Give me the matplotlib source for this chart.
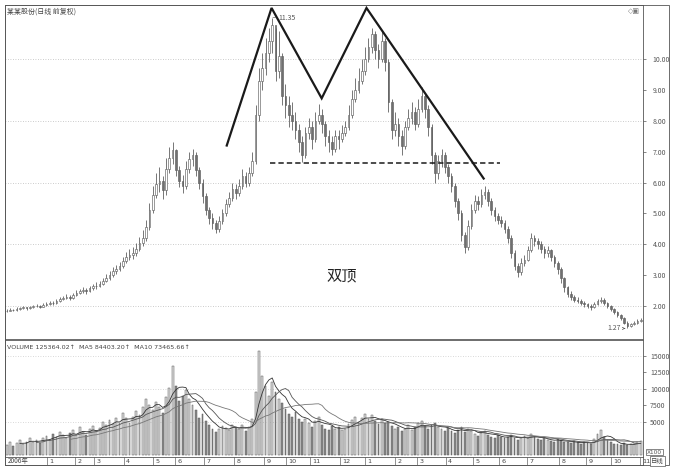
import matplotlib
matplotlib.use('Agg')
import matplotlib.pyplot as plt
import matplotlib.patches as mpatches
import numpy as np
import pandas as pd

plt.rcParams['font.family'] = ['Noto Sans CJK SC', 'DejaVu Sans']

# ---------------- data ----------------
first_open = 1.83
closes = [
    1.85, 1.88, 1.86, 1.90, 1.93, 1.95, 1.92, 1.96, 1.99, 2.00,
    1.97, 2.03, 2.06, 2.10, 2.08, 2.15, 2.22, 2.26, 2.30, 2.27,
    2.35, 2.42, 2.48, 2.52, 2.49, 2.58, 2.63, 2.66, 2.72, 2.82,
    2.90, 3.00, 3.12, 3.20, 3.28, 3.45, 3.60, 3.66, 3.72, 3.85,
    4.05, 4.20, 4.55, 5.10, 5.60, 5.95, 6.05, 5.75, 6.45, 6.80,
    7.05, 6.40, 6.05, 5.90, 6.45, 6.75, 6.90, 6.40, 6.00, 5.55,
    5.10, 4.85, 4.70, 4.50, 4.75, 5.00, 5.30, 5.50, 5.80, 5.65,
    5.90, 6.20, 6.00, 6.30, 6.70, 8.20, 9.30, 9.70, 10.20, 10.60,
    11.10, 9.60, 10.10, 8.80, 8.50, 8.20, 8.00, 7.70, 7.30, 6.90,
    7.60, 7.80, 7.40, 8.00, 8.20, 7.90, 7.50, 7.30, 7.10, 7.50,
    7.40, 7.60, 7.80, 8.20, 8.70, 9.00, 9.30, 9.60, 10.00, 10.40,
    10.80, 10.30, 10.00, 10.60, 9.90, 8.60, 7.70, 7.90, 7.50, 7.20,
    7.80, 8.10, 8.30, 7.90, 8.40, 8.80, 8.40, 7.80, 6.90, 6.30,
    6.70, 6.90, 6.50, 6.20, 5.90, 5.40, 5.00, 4.30, 3.90, 4.60,
    5.10, 5.40, 5.30, 5.60, 5.70, 5.40, 5.10, 4.90, 4.80, 4.70,
    4.50, 4.20, 3.70, 3.30, 3.10, 3.40, 3.50, 3.80, 4.20, 4.10,
    4.00, 3.85, 3.70, 3.80, 3.60, 3.40, 3.20, 2.90, 2.60, 2.40,
    2.30, 2.20, 2.15, 2.10, 2.05, 2.00, 1.95, 2.05, 2.15, 2.20,
    2.10, 2.00, 1.90, 1.80, 1.70, 1.60, 1.45, 1.35, 1.40, 1.45,
    1.50, 1.55,
]
highs = [
    1.90, 1.92, 1.91, 1.95, 1.97, 2.00, 1.98, 2.01, 2.04, 2.06,
    2.03, 2.08, 2.12, 2.16, 2.15, 2.21, 2.28, 2.33, 2.37, 2.35,
    2.42, 2.50, 2.56, 2.60, 2.58, 2.66, 2.72, 2.76, 2.82, 2.92,
    3.02, 3.12, 3.25, 3.34, 3.42, 3.60, 3.76, 3.84, 3.90, 4.05,
    4.25, 4.45, 4.80, 5.35, 5.90, 6.30, 6.50, 6.20, 6.80, 7.15,
    7.30, 7.10, 6.55, 6.25, 6.70, 7.00, 7.10, 7.00, 6.50, 6.10,
    5.65, 5.20, 5.00, 4.80, 4.90, 5.15, 5.45, 5.70, 6.00, 5.95,
    6.10, 6.45, 6.35, 6.50, 7.00, 8.50, 9.70, 10.20, 10.70, 11.00,
    11.35, 11.00, 10.90, 10.20, 9.20, 8.80, 8.60, 8.30, 7.90, 7.50,
    7.80, 8.10, 8.00, 8.30, 8.55, 8.40, 8.00, 7.70, 7.50, 7.70,
    7.70, 7.85, 8.00, 8.50, 9.00, 9.40, 9.70, 10.00, 10.40, 10.70,
    11.00, 10.90, 10.50, 10.90, 10.70, 10.00, 8.70, 8.30, 8.10, 7.70,
    8.00, 8.40, 8.60, 8.45, 8.70, 9.10, 8.90, 8.50, 7.90, 7.00,
    6.90, 7.10, 7.00, 6.60, 6.30, 6.00, 5.50, 5.10, 4.40, 4.80,
    5.30, 5.60, 5.55, 5.80, 5.90, 5.80, 5.50, 5.20, 5.00, 4.90,
    4.80, 4.60, 4.30, 3.80, 3.40, 3.55, 3.65, 3.95, 4.35, 4.30,
    4.20, 4.10, 3.95, 3.95, 3.85, 3.65, 3.45, 3.25, 2.95, 2.65,
    2.48, 2.36, 2.28, 2.22, 2.16, 2.10, 2.05, 2.12, 2.24, 2.30,
    2.25, 2.14, 2.04, 1.94, 1.84, 1.74, 1.64, 1.50, 1.46, 1.50,
    1.56, 1.60,
]
lows = [
    1.80, 1.83, 1.82, 1.84, 1.88, 1.90, 1.88, 1.90, 1.93, 1.95,
    1.92, 1.95, 2.00, 2.03, 2.02, 2.05, 2.12, 2.18, 2.22, 2.20,
    2.24, 2.32, 2.38, 2.43, 2.40, 2.45, 2.53, 2.56, 2.60, 2.68,
    2.76, 2.84, 2.95, 3.05, 3.12, 3.22, 3.38, 3.48, 3.52, 3.62,
    3.78, 3.95, 4.10, 4.45, 5.00, 5.50, 5.70, 5.45, 5.60, 6.30,
    6.60, 6.20, 5.85, 5.65, 5.80, 6.30, 6.55, 6.20, 5.80, 5.35,
    4.95, 4.65, 4.50, 4.35, 4.40, 4.65, 4.90, 5.20, 5.40, 5.45,
    5.55, 5.80, 5.85, 5.90, 6.20, 6.60, 8.00, 9.00, 9.50, 9.90,
    10.20, 9.30, 9.40, 8.50, 8.10, 7.80, 7.70, 7.40, 7.00, 6.65,
    6.80, 7.40, 7.10, 7.30, 7.90, 7.60, 7.20, 7.00, 6.90, 7.00,
    7.10, 7.30, 7.50, 7.70, 8.10, 8.60, 8.90, 9.20, 9.50, 9.90,
    10.20, 10.00, 9.70, 9.90, 9.60, 8.30, 7.40, 7.50, 7.20, 6.90,
    7.10, 7.70, 7.90, 7.70, 7.80, 8.30, 8.10, 7.50, 6.60, 6.00,
    6.10, 6.50, 6.30, 6.00, 5.70, 5.20, 4.80, 4.10, 3.70, 3.80,
    4.50, 5.00, 5.10, 5.20, 5.45, 5.25, 4.95, 4.75, 4.65, 4.55,
    4.35, 4.05, 3.55, 3.15, 2.95, 3.00, 3.30, 3.45, 3.75, 3.95,
    3.85, 3.70, 3.55, 3.60, 3.45, 3.25, 3.05, 2.75, 2.45, 2.30,
    2.20, 2.12, 2.08, 2.03, 1.98, 1.93, 1.88, 1.92, 2.02, 2.10,
    2.02, 1.93, 1.84, 1.74, 1.64, 1.54, 1.40, 1.27, 1.32, 1.37,
    1.42, 1.47,
]
volumes = [
    1500, 1900, 1300, 1800, 2300, 1600, 2000, 2600, 1900, 2200,
    1800, 2500, 2900, 2300, 3200, 2700, 3500, 3000, 2500, 3300,
    3800, 3100, 4200, 3500, 3000, 3900, 4400, 3600, 4100, 5000,
    4500, 5300, 4700, 5600, 4900, 6300, 5600, 4900, 5800, 6600,
    6000, 7200, 8500, 7600, 6800, 8000, 7200, 6400, 8800, 10200,
    13500, 10500, 8200, 9000, 9800, 8500, 7600, 6800, 5600, 6200,
    5200, 4600, 4000, 3500, 3900, 4400, 4100, 3800, 4500, 4200,
    3900, 4600, 3700, 4200, 5500, 9500, 15800, 12000, 10500, 9000,
    11000, 9500, 8500, 7800, 7000, 6200, 5800, 6500, 5400, 5000,
    5500, 4800, 4200, 5200, 5800, 4600, 4000, 3800, 4400, 3900,
    4300, 3800, 4000, 4700, 5300, 5800, 5000, 5600, 6200, 5400,
    6000, 5200, 4700, 5400, 4800, 5000, 4400, 3900, 4200, 3600,
    4000, 4500, 3800, 4200, 4800, 5200, 4400, 3900, 4600, 4800,
    4200, 3900, 3700, 4100, 3600, 3300, 3800, 4300, 3500, 3900,
    3600, 3200, 2900, 3400, 3700, 3100, 2800, 2600, 3000, 2700,
    2500, 2800, 3000, 2600, 2300, 2500, 2900, 2600, 3200, 2800,
    2400, 2200, 2600, 2300, 2100, 2000, 2400, 2200, 2000, 1900,
    1800, 2100, 1900, 1700, 2000, 1800, 1600, 2400, 3200, 3800,
    2800, 2200, 1900, 1700, 1600, 1500, 1800, 1500, 1700, 1600,
    1900, 2100,
]
year_label = '2006年'
month_labels = ['1', '2', '3', '4', '5', '6', '7', '8', '9', '10', '11', '12',
                '1', '2', '3', '4', '5', '6', '7', '8', '9', '10', '11']
month_starts = [12.3, 20.7, 26.4, 35.4, 44.2, 50.8, 59.5, 68.6, 77.6, 84.2,
                91.5, 100.5, 108.0, 117.1, 123.7, 132.4, 140.6, 148.4, 156.8,
                166.5, 174.6, 182.1, 190.9]
price_ticks = [2, 3, 4, 5, 6, 7, 8, 9, 10]
price_tick_labels = ['2.00', '3.00', '4.00', '5.00', '6.00', '7.00', '8.00', '9.00', '10.00']
price_grid = [2, 4, 6, 8, 10]
vol_ticks = [5000, 7500, 10000, 12500, 15000]
vol_tick_labels = ['5000', '7500', '10000', '12500', '15000']
vol_grid = [5000, 10000, 15000]

# double-top pattern drawn on the chart (bar index, price)
pattern_x = [66.3, 79.8, 94.9, 108.4, 143.7]
pattern_y = [7.20, 11.66, 8.73, 11.66, 6.13]
neck_x = [79.2, 148.5]
neck_y = [6.62, 6.62]

title_text = '某某股份(日线 前复权)'
vol_header = 'VOLUME 125364.02↑  MA5 84403.20↑  MA10 73465.66↑'
pattern_name = '双顶'
high_label = '11.35'
low_label = '1.27'

# ---------------- figure ----------------
W, H = 675, 471
fig = plt.figure(figsize=(W / 100, H / 100), dpi=100)
fig.patch.set_facecolor('white')


def rect(l, t, r, b):
    return [l / W, 1 - b / H, (r - l) / W, (b - t) / H]


ax = fig.add_axes(rect(5, 5, 643, 339))
axv = fig.add_axes(rect(5, 340, 643, 457))
axd = fig.add_axes(rect(5, 457, 643, 465))

n = len(closes)
x = np.arange(n)
c = np.array(closes)
o = np.r_[first_open, c[:-1]]
hi = np.array(highs)
lo = np.array(lows)
up = c >= o

# candles
ax.vlines(x, lo, hi, color='#606060', lw=0.6, zorder=3)
body_bot = np.minimum(o, c)
body_h = np.maximum(np.abs(c - o), 0.02)
ax.bar(x[up], body_h[up], bottom=body_bot[up], width=0.5,
       facecolor='white', edgecolor='#606060', lw=0.45, zorder=4)
ax.bar(x[~up], body_h[~up], bottom=body_bot[~up], width=0.5,
       facecolor='#707070', edgecolor='#606060', lw=0.45, zorder=4)

XL = (-0.5, 191.7)
ax.set_xlim(*XL)
ax.set_ylim(0.927, 11.756)
for g in price_grid:
    ax.axhline(g, color='#bbbbbb', lw=0.6, ls=(0, (1, 2)), zorder=1)
ax.yaxis.tick_right()
ax.set_yticks(price_ticks)
ax.set_yticklabels(price_tick_labels)
ax.tick_params(axis='y', labelsize=5, colors='#555555', length=2, width=0.5,
               direction='out', pad=5)
ax.set_xticks([])
for s in ax.spines.values():
    s.set_color('#555555')
    s.set_linewidth(0.6)

# pattern lines
ax.plot(pattern_x, pattern_y, color='#1a1a1a', lw=1.6, zorder=6,
        solid_joinstyle='miter')
ax.plot(neck_x, neck_y, color='#1a1a1a', lw=1.1, ls=(0, (3.5, 2)), zorder=6)
ax.text(100.9, 2.98, pattern_name, fontsize=11, color='#222222',
        ha='center', va='center', zorder=7)

# high / low markers
ax.annotate('', xy=(80.2, 11.35), xytext=(81.8, 11.35),
            arrowprops=dict(arrowstyle='-', color='#666666', lw=0.5))
ax.text(81.9, 11.35, high_label, fontsize=5, color='#555555', va='center', ha='left')
ax.text(185.0, 1.27, low_label, fontsize=5, color='#555555', va='center', ha='right')
ax.annotate('', xy=(187.2, 1.27), xytext=(185.3, 1.27),
            arrowprops=dict(arrowstyle='->', color='#555555', lw=0.5,
                            mutation_scale=4))

fig.text(7 / W, 1 - 12 / H, title_text, fontsize=5, color='#444444', va='center')
fig.text(628 / W, 1 - 11 / H, '◇▣', fontsize=5, color='#777777', va='center',
         family=['DejaVu Sans'])

# volume panel
v = np.array(volumes)
axv.bar(x[up], v[up], width=0.55, facecolor='#dcdcdc', edgecolor='#5a5a5a',
        lw=0.35, zorder=3)
axv.bar(x[~up], v[~up], width=0.55, facecolor='#8a8a8a', edgecolor='#5a5a5a',
        lw=0.35, zorder=3)
vs = pd.Series(volumes, dtype=float)
axv.plot(x, vs.rolling(5).mean(), color='#333333', lw=0.6, zorder=4)
axv.plot(x, vs.rolling(10).mean(), color='#555555', lw=0.6, zorder=4)
axv.plot(x, vs.rolling(20).mean(), color='#777777', lw=0.6, zorder=4)
axv.set_xlim(*XL)
axv.set_ylim(-300, 17400)
for g in vol_grid:
    axv.axhline(g, color='#cccccc', lw=0.6, ls=(0, (1, 2)), zorder=1)
axv.yaxis.tick_right()
axv.set_yticks(vol_ticks)
axv.set_yticklabels(vol_tick_labels)
axv.tick_params(axis='y', labelsize=5, colors='#555555', length=2, width=0.5,
                direction='out', pad=3)
axv.set_xticks([])
for s in axv.spines.values():
    s.set_color('#555555')
    s.set_linewidth(0.6)
axv.text(0.003, 0.955, vol_header, transform=axv.transAxes, fontsize=4.6,
         color='#444444', va='top', ha='left', family=['DejaVu Sans'])
fig.text(647 / W, 1 - 452 / H, 'X100', fontsize=4.2, color='#555555',
         va='center', ha='left', family=['DejaVu Sans'],
         bbox=dict(boxstyle='square,pad=0.15', fc='white', ec='#555555', lw=0.5))

# date row
axd.set_xlim(*XL)
axd.set_ylim(0, 1)
axd.set_xticks([])
axd.set_yticks([])
for s in axd.spines.values():
    s.set_color('#555555')
    s.set_linewidth(0.6)
axd.text(0.3, 0.45, year_label, fontsize=4.6, color='#444444', va='center', ha='left')
axd.vlines(month_starts, 0.0, 1.0, color='#666666', lw=0.5)
for ms, lab in zip(month_starts, month_labels):
    axd.text(ms + 0.6, 0.45, lab, fontsize=4.6, color='#444444', va='center',
             ha='left', family=['DejaVu Sans'])
fig.text(651 / W, 1 - 461 / H, '日线', fontsize=4.6, color='#444444',
         va='center', ha='left',
         bbox=dict(boxstyle='square,pad=0.15', fc='white', ec='#555555', lw=0.5))

# outer frame
fig.add_artist(mpatches.Rectangle((5 / W, 1 - 465 / H), (669 - 5) / W,
                                  (465 - 5) / H, transform=fig.transFigure,
                                  fill=False, ec='#555555', lw=0.6))

fig.savefig('out.png', dpi=100, facecolor='white')
